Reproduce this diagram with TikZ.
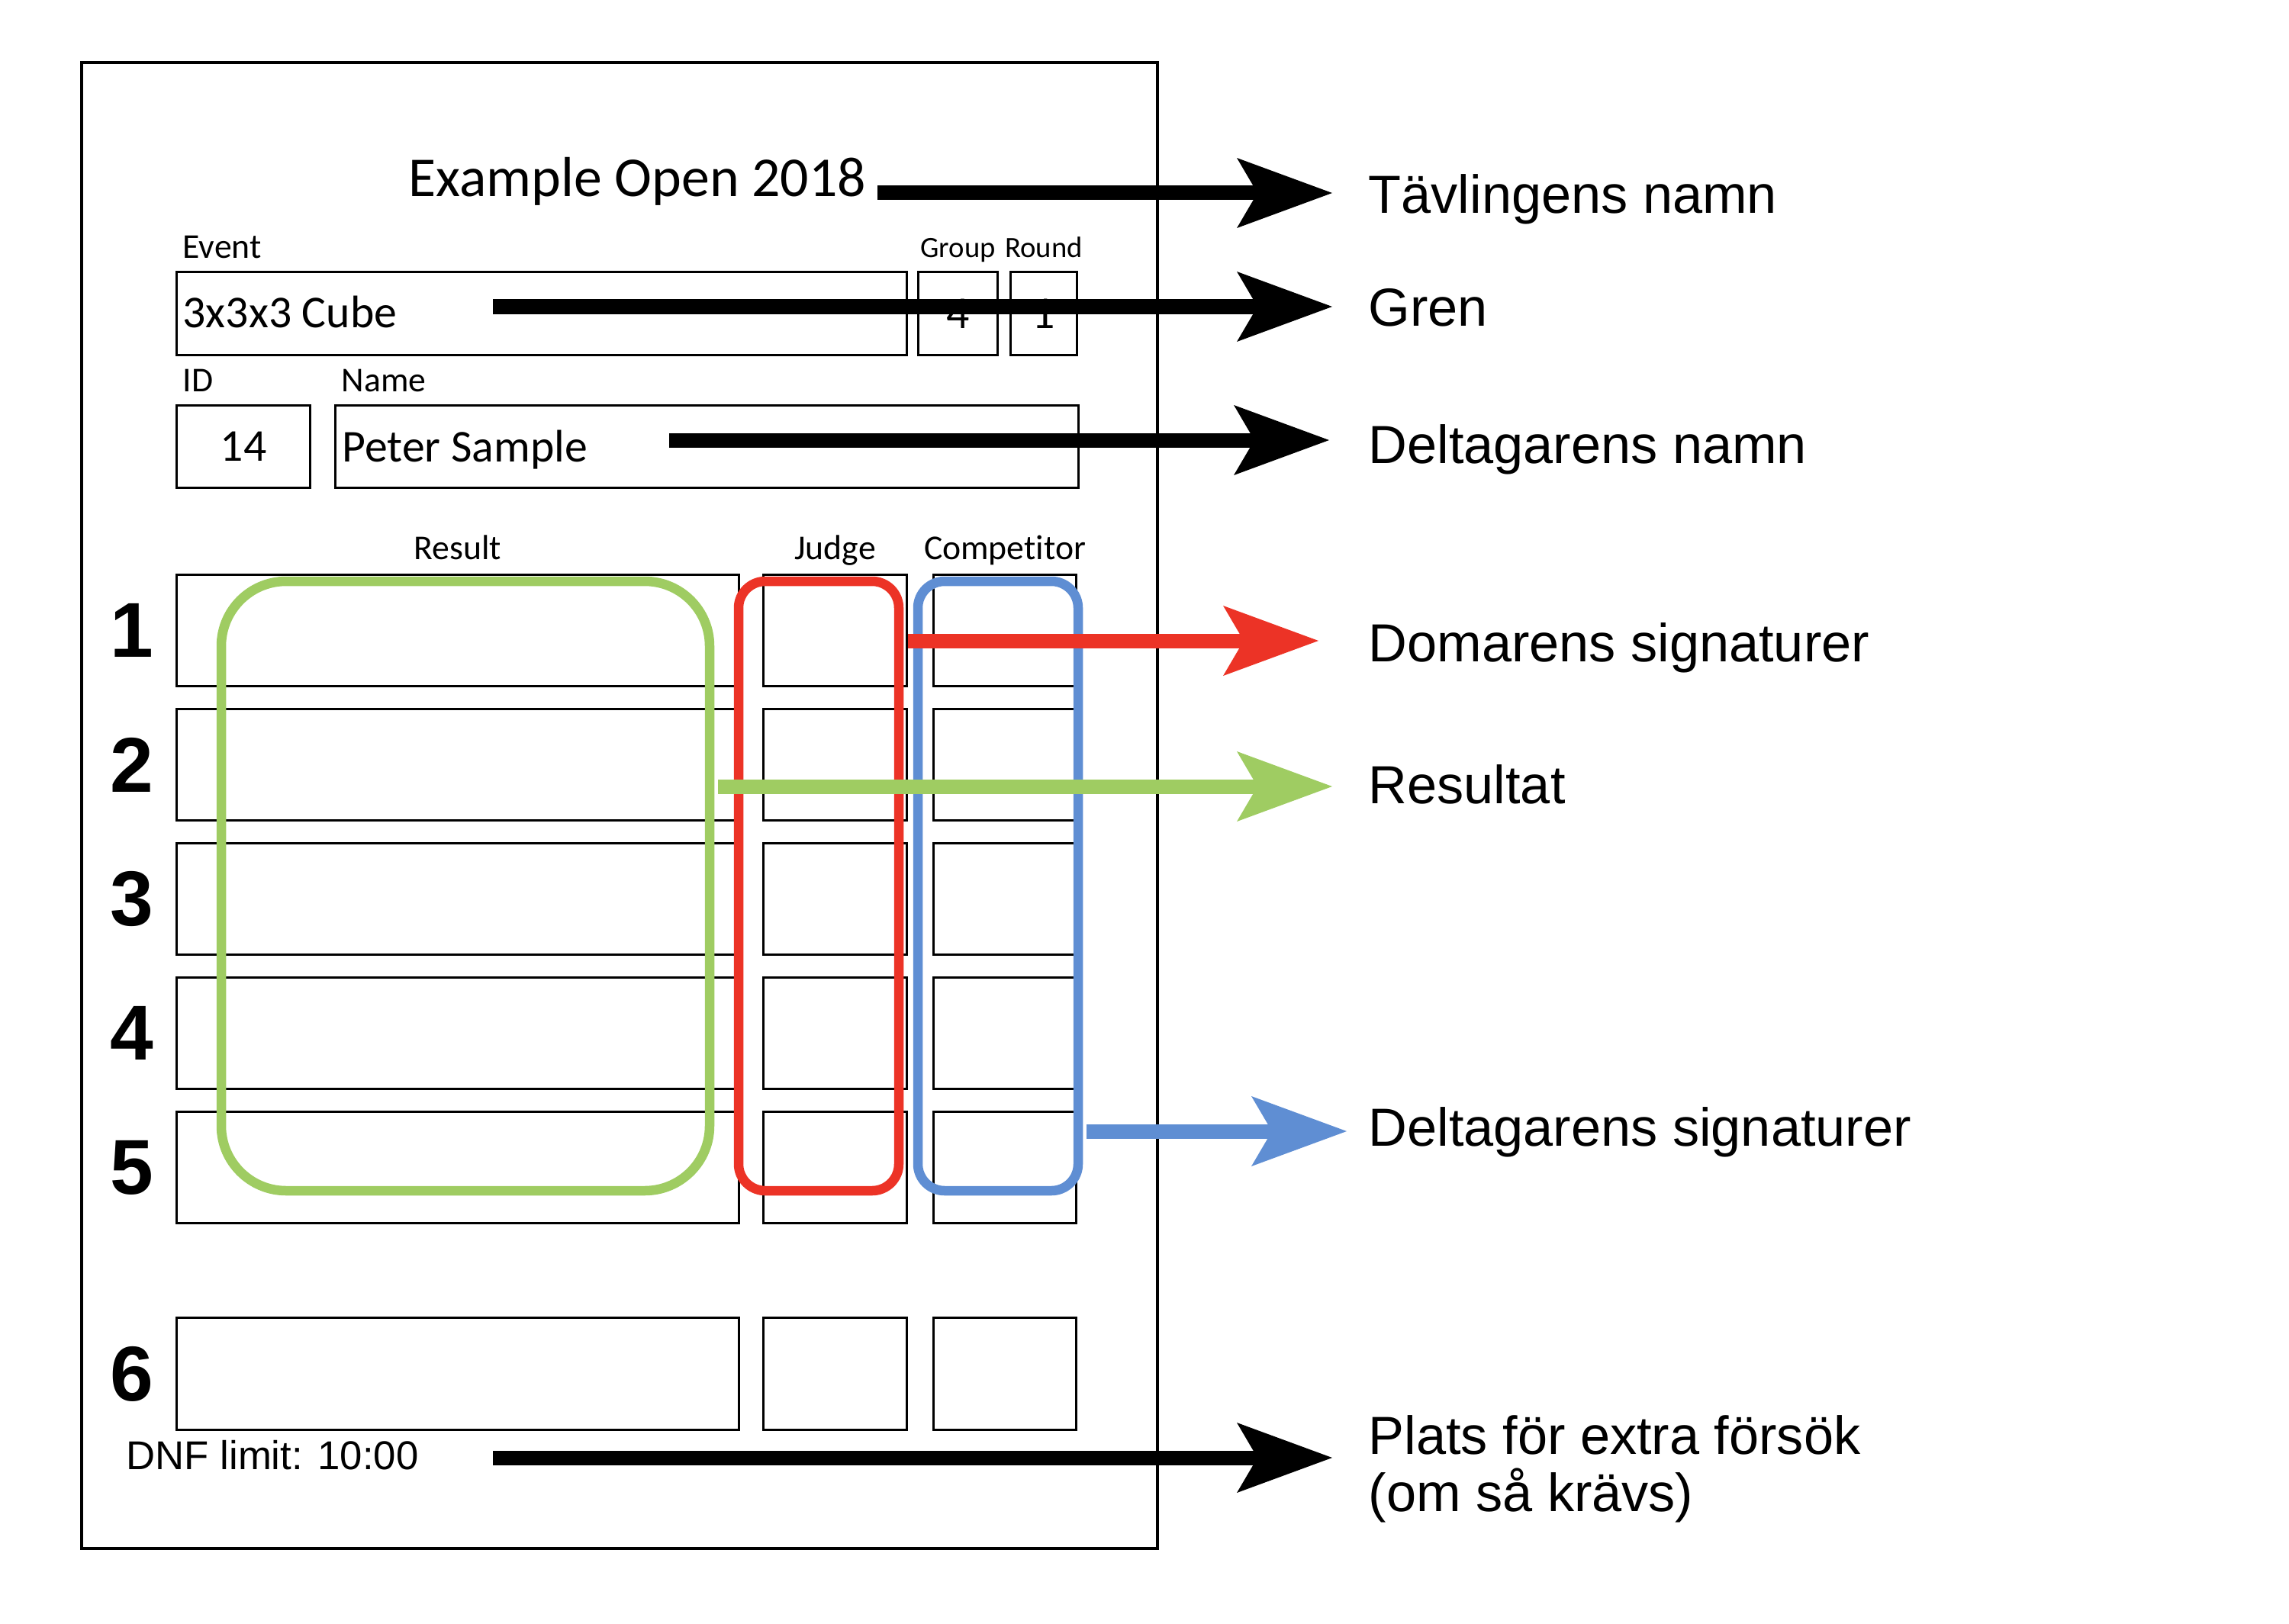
\documentclass[tikz,border=0pt]{standalone}
\usepackage{fontspec}
\setmainfont{Liberation Sans}
\newfontfamily\formfont[Ligatures=NoCommon]{Carlito}
\usetikzlibrary{arrows.meta,positioning}
\definecolor{hlred}{HTML}{EC3326}
\definecolor{hlgreen}{HTML}{9FCC62}
\definecolor{hlblue}{HTML}{5F8ED3}

\begin{document}
\begin{tikzpicture}[
  cell/.style   ={draw, line width=0.9pt, inner sep=0pt, anchor=north west, minimum height=1.46cm},
  rescell/.style={cell, minimum width=7.37cm},
  judcell/.style={cell, minimum width=1.88cm},
  comcell/.style={cell, minimum width=1.87cm},
  head/.style   ={inner sep=0pt, text depth=3.5pt, font=\formfont\fontsize{13}{15}\selectfont},
  grp/.style    ={head, font=\formfont\fontsize{11}{13}\selectfont},
  val/.style    ={inner sep=0pt, anchor=base west, font=\formfont\fontsize{17}{20}\selectfont},
  num/.style    ={inner sep=0pt, font=\fontsize{29}{30}\selectfont\bfseries},
  hl/.style     ={draw, line width=1.25mm, inner sep=0pt, minimum height=7.99cm},
  lbl/.style    ={inner sep=0pt, anchor=base west, font=\fontsize{20}{21.3}\selectfont},
  arr/.style    ={-{Stealth[length=12.5mm, width=9.2mm, inset=2.7mm, line width=0pt]}, line width=1.9mm},
]
\useasboundingbox (0,0) rectangle (30,-21.28);

% ======================= the score card =======================
\node[draw, line width=1.2pt, inner sep=0pt, anchor=north west, minimum width=14.10cm, minimum height=19.48cm] (sheet) at (1.05,-0.80) {};
\node[inner sep=0pt, anchor=base west, font=\formfont\fontsize{21}{25}\selectfont] (title) at (5.35,-2.58) {Example Open 2018};

\node[cell, minimum width=9.57cm, minimum height=1.09cm] (event) at (2.30,-3.55) {};
\node[cell, minimum width=1.04cm, minimum height=1.09cm] (group) at (12.02,-3.55) {};
\node[cell, minimum width=0.87cm, minimum height=1.09cm] (round) at (13.23,-3.55) {};
\node[cell, minimum width=1.75cm, minimum height=1.08cm] (id)    at (2.30,-5.30) {};
\node[cell, minimum width=9.74cm, minimum height=1.08cm] (name)  at (4.38,-5.30) {};

\node[head, above right=0.03cm and 0.09cm of event.north west] (hevent) {Event};
\node[grp, above=0.04cm of group] (hgroup) {Group};
\node[grp, above=0.04cm of round] (hround) {Round};
\node[head, above right=0.03cm and 0.09cm of id.north west] (hid) {ID};
\node[head, above right=0.03cm and 0.09cm of name.north west] (hname) {Name};

\node[val] (vevent) at ([xshift=0.09cm, yshift=-0.18cm]event.west) {3x3x3 Cube};
\node[val, anchor=base] (vgroup) at ([yshift=-0.19cm]group.center) {4};
\node[val, anchor=base] (vround) at ([yshift=-0.19cm]round.center) {1};
\node[val, anchor=base] (vid) at ([yshift=-0.19cm]id.center) {14};
\node[val] (vname) at ([xshift=0.10cm, yshift=-0.20cm]name.west) {Peter Sample};

% attempts 1-5
\node[rescell] (res1) at (2.30,-7.52) {};
\node[judcell] (jud1) at (9.99,-7.52) {};
\node[comcell] (com1) at (12.22,-7.52) {};
\node[rescell] (res2) at (2.30,-9.28) {};
\node[judcell] (jud2) at (9.99,-9.28) {};
\node[comcell] (com2) at (12.22,-9.28) {};
\node[rescell] (res3) at (2.30,-11.04) {};
\node[judcell] (jud3) at (9.99,-11.04) {};
\node[comcell] (com3) at (12.22,-11.04) {};
\node[rescell] (res4) at (2.30,-12.80) {};
\node[judcell] (jud4) at (9.99,-12.80) {};
\node[comcell] (com4) at (12.22,-12.80) {};
\node[rescell] (res5) at (2.30,-14.56) {};
\node[judcell] (jud5) at (9.99,-14.56) {};
\node[comcell] (com5) at (12.22,-14.56) {};
% extra attempt
\node[rescell, minimum height=1.47cm] (res6) at (2.30,-17.26) {};
\node[judcell, minimum height=1.47cm] (jud6) at (9.99,-17.26) {};
\node[comcell, minimum height=1.47cm] (com6) at (12.22,-17.26) {};

\node[num, left=0.28cm of res1] (n1) {1};
\node[num, left=0.28cm of res2] (n2) {2};
\node[num, left=0.28cm of res3] (n3) {3};
\node[num, left=0.28cm of res4] (n4) {4};
\node[num, left=0.28cm of res5] (n5) {5};
\node[num, left=0.28cm of res6] (n6) {6};

\node[head, above=0.05cm of res1] (hres) {Result};
\node[head, above=0.05cm of jud1] (hjud) {Judge};
\node[head, above=0.05cm of com1] (hcom) {Competitor};

\node[inner sep=0pt, anchor=base west, font=\fontsize{15}{18}\selectfont] (dnf) at (1.65,-19.26) {DNF limit: 10:00};

% highlighted columns
\node[hl, draw=hlgreen, rounded corners=8.5mm, minimum width=6.40cm] (grnbox) at (6.10,-11.615) {};
\node[hl, draw=hlred,   rounded corners=3.5mm, minimum width=2.10cm] (redbox) at (10.73,-11.615) {};
\node[hl, draw=hlblue,  rounded corners=3.5mm, minimum width=2.10cm] (blubox) at (13.08,-11.615) {};

% ======================= explanations =======================
\node[lbl] (lTitle)  at (17.93,-2.80)  {Tävlingens namn};
\node[lbl] (lEvent)  at (17.93,-4.28)  {Gren};
\node[lbl] (lName)   at (17.93,-6.07)  {Deltagarens namn};
\node[lbl] (lJudge)  at (17.93,-8.67)  {Domarens signaturer};
\node[lbl] (lResult) at (17.93,-10.53) {Resultat};
\node[lbl] (lComp)   at (17.93,-15.02) {Deltagarens signaturer};
\node[lbl, anchor=north west, align=left] (lExtra) at (17.93,-18.55) {Plats för extra försök\\(om så krävs)};

\coordinate (sTitle)  at (11.50,-2.53);
\coordinate (sEvent)  at (6.46,-4.02);
\coordinate (sName)   at (8.77,-5.77);
\coordinate (sJudge)  at (11.90,-8.40);
\coordinate (sResult) at (9.41,-10.31);
\coordinate (sComp)   at (14.24,-14.83);
\coordinate (sExtra)  at (6.46,-19.11);

\draw[arr, shorten >=4.7mm] (sTitle) -- (sTitle -| lTitle.west);
\draw[arr, shorten >=4.7mm] (sEvent) -- (sEvent -| lEvent.west);
\draw[arr, shorten >=5.1mm] (sName) -- (sName -| lName.west);
\draw[arr, hlgreen, shorten >=4.7mm] (sResult) -- (sResult -| lResult.west);
\draw[arr, hlred, shorten >=6.5mm] (sJudge) -- (sJudge -| lJudge.west);
\draw[arr, hlblue, shorten >=2.8mm] (sComp) -- (sComp -| lComp.west);
\draw[arr, shorten >=4.7mm] (sExtra) -- (sExtra -| lExtra.west);
\end{tikzpicture}
\end{document}
